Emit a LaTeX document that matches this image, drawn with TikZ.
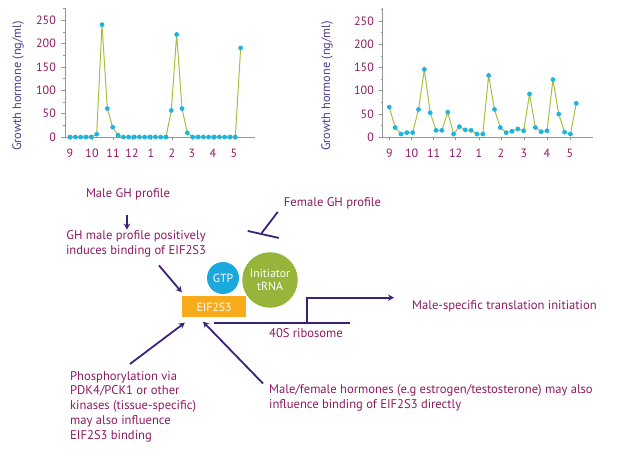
\documentclass[tikz,border=0pt]{standalone}
\usepackage{fontspec}
\setmainfont{PT Sans}
\usepackage{tikz}
\usetikzlibrary{positioning}
\usetikzlibrary{arrows.meta}
\definecolor{txtpurple}{RGB}{140,26,98}
\definecolor{ylblc}{RGB}{78,60,140}
\definecolor{arrowc}{RGB}{58,34,120}
\definecolor{axisg}{RGB}{150,150,150}
\definecolor{glinec}{RGB}{165,192,64}
\definecolor{dotc}{RGB}{29,179,227}
\definecolor{gtpc}{RGB}{27,168,221}
\definecolor{trnac}{RGB}{151,180,59}
\definecolor{eifc}{RGB}{248,172,28}
\tikzset{
  lbl/.style={font=\fontsize{12.6}{14.8}\selectfont,text=txtpurple,inner sep=0pt},
  ticklbl/.style={font=\fontsize{12}{14}\selectfont,text=txtpurple,inner sep=0pt},
  ylbl/.style={font=\fontsize{12.3}{14}\selectfont,text=ylblc,inner sep=0pt,rotate=90},
  axisline/.style={draw=axisg,line width=0.8pt},
  gline/.style={draw=glinec,line width=1pt},
  arr/.style={draw=arrowc,line width=1.8pt,-{Stealth[length=6pt,width=6.5pt,inset=2pt]}},
  inhline/.style={draw=arrowc,line width=1.8pt},
  whitetxt/.style={text=white,font=\fontsize{11.8}{13}\selectfont,inner sep=0pt}
}
\begin{document}
\begin{tikzpicture}[x=1pt,y=-1pt]
\useasboundingbox (0,0) rectangle (630,462);

\draw[axisline] (65,8) -- (65,137) -- (255,137);
\foreach \v in {0,50,...,250} {
  \draw[axisline] (61,{137-0.466*\v}) -- (65,{137-0.466*\v});
  \node[ticklbl,anchor=east] at (56,{137-0.466*\v}) {\v};
}
\foreach \v in {25,75,...,275} \draw[axisline] (63,{137-0.466*\v}) -- (65,{137-0.466*\v});
\foreach \h/\x in {9/70,10/92,11/113,12/132,1/151,2/172,3/192,4/213,5/234} {
  \draw[axisline] (\x,137) -- (\x,140);
  \node[ticklbl] at (\x,153) {\h};
}
\foreach \v [count=\i from 0] in {0,0,0,0,0,6,241,61,21,4,0,0,0,0,0,0,0,0,0,57,220,61,9,0,0,0,0,0,0,0,0,0,191}
  \coordinate (pa\i) at ({70+5.333*\i},{137-0.466*\v});
\draw[gline] (pa0) \foreach \i in {1,...,32} {-- (pa\i)};
\foreach \i in {0,...,32} \fill[dotc] (pa\i) circle (2.4);
\node[ylbl] (ylaba) at (18,86) {Growth hormone (ng/ml)};

\draw[axisline] (382.7,8) -- (382.7,137.3) -- (593,137.3);
\foreach \v in {0,50,...,250} {
  \draw[axisline] (378.7,{137.3-0.465*\v}) -- (382.7,{137.3-0.465*\v});
  \node[ticklbl,anchor=east] at (374,{137.3-0.465*\v}) {\v};
}
\foreach \v in {25,75,...,275} \draw[axisline] (380.7,{137.3-0.465*\v}) -- (382.7,{137.3-0.465*\v});
\foreach \h/\x in {9/389.3,10/411.7,11/433.7,12/455.7,1/479,2/501,3/524,4/547,5/570} {
  \draw[axisline] (\x,137.3) -- (\x,140.3);
  \node[ticklbl] at (\x,153) {\h};
}
\foreach \v [count=\i from 0] in {65,21,7,10,10,60,146,53,15,15,54,7,23,16,15,7,7,133,60,21,10,13,18,14,93,21,12,14,124,50,11,7,73}
  \coordinate (pb\i) at ({389.3+5.843*\i},{137.3-0.465*\v});
\draw[gline] (pb0) \foreach \i in {1,...,32} {-- (pb\i)};
\foreach \i in {0,...,32} \fill[dotc] (pb\i) circle (2.4);
\node[ylbl] (ylabb) at (327,86) {Growth hormone (ng/ml)};

\node[lbl] (male) at (128,194) {Male GH profile};
\node[lbl,align=center] (ghmale) at (136,244) {GH male profile positively\\induces binding of EIF2S3};
\node[lbl] (female) at (332.5,203) {Female GH profile};
\node[fill=eifc,minimum width=64pt,minimum height=21pt,whitetxt] (eif) at (214,307) {EIF2S3};
\node[circle,fill=gtpc,minimum size=32pt,whitetxt] (gtp) at (223,278) {GTP};
\node[circle,fill=trnac,minimum size=55.5pt,whitetxt,align=center] (trna) at (270,280) {Initiator\\tRNA};
\node[lbl] (ribo) at (306,333) {40S ribosome};
\node[lbl,anchor=west] (msti) at (412,306) {Male-specific translation initiation};
\node[lbl,align=left,anchor=north west] (phos) at (70,371) {Phosphorylation via\\PDK4/PCK1 or other\\kinases (tissue-specific)\\may also influence\\EIF2S3 binding};
\node[lbl,align=left,anchor=north west] (horm) at (269,384.5) {Male/female hormones (e.g estrogen/testosterone) may also\\influence binding of EIF2S3 directly};

\draw[arr] ([shift={(-1,15)}]male.south) -- ([shift={(-1,-1)}]male.south |- ghmale.north);
\draw[arr] ([shift={(23,8)}]ghmale.south) -- ([shift={(0,-4)}]eif.north west);
\draw[inhline] ([shift={(-6,3)}]female.south west) -- ([shift={(-22,24)}]female.south west) coordinate (blk);
\draw[inhline] ([shift={(-14,-2)}]blk) -- ([shift={(17,5)}]blk);
\draw[inhline] (214,322.7) -- (350,322.7);
\coordinate (rb) at (307,322.7);
\draw[arr] (rb) |- ([shift={(-18,-8.3)}]msti.west);
\draw[arr] ([shift={(60,-7)}]phos.north west) -- ([shift={(3,5)}]eif.south west);
\draw[arr] ([shift={(-6,-1)}]horm.north west) -- ([shift={(-11,4)}]eif.south);

\end{tikzpicture}
\end{document}
